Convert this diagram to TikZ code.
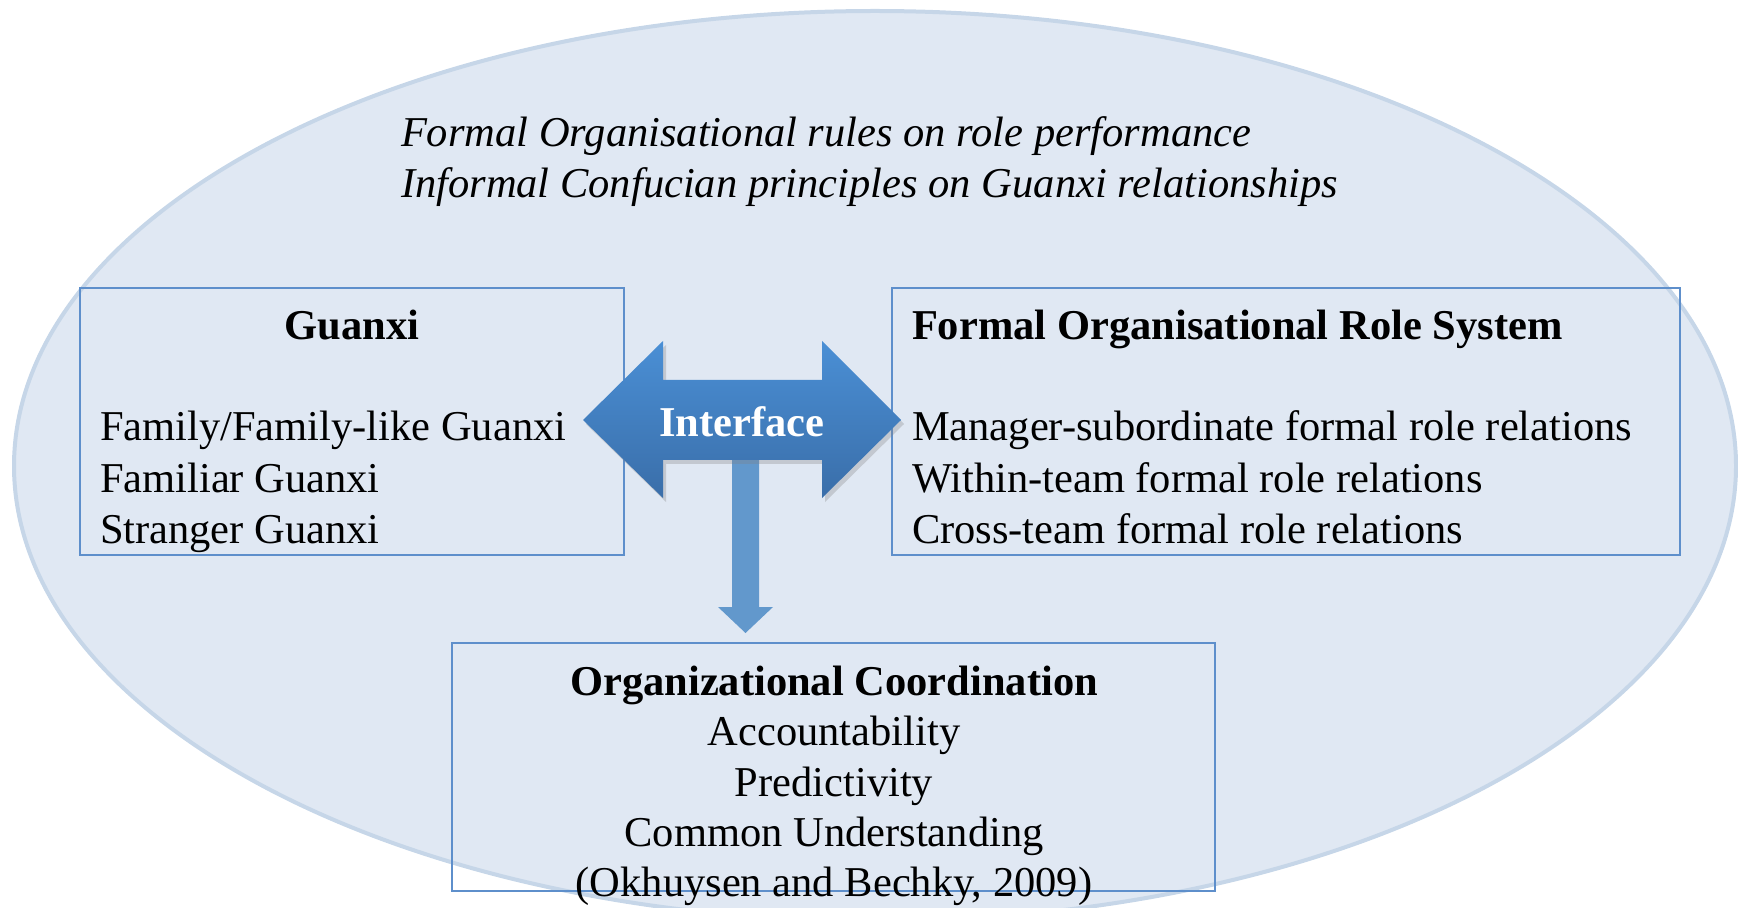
\documentclass[tikz,border=0pt]{standalone}
\usepackage{fontspec}
\setmainfont{Liberation Serif}
\usetikzlibrary{shadows}

\definecolor{ellfill}{HTML}{E0E8F3}
\definecolor{ellline}{HTML}{C6D6E8}
\definecolor{boxline}{HTML}{5E8FCB}
\definecolor{arrowtop}{HTML}{4A8FD5}
\definecolor{arrowbot}{HTML}{3A6EA9}
\definecolor{downfill}{HTML}{6298CC}

\newcommand\labelsize{\fontsize{21.25pt}{25.5pt}\selectfont}

\begin{document}
\begin{tikzpicture}[x=0.5pt,y=-0.5pt,
  txt/.style={inner sep=0pt, outer sep=0pt, font=\labelsize},
  framebox/.style={draw=boxline, line width=1pt, rectangle, inner sep=0pt}]
\useasboundingbox (0,0) rectangle (1738,908);
\clip (0,0) rectangle (1738,908);

% outer context ellipse
\draw[fill=ellfill, draw=ellline, line width=2pt] (875,466) ellipse [x radius=861, y radius=455];

% the three frames
\node[framebox, minimum width=272pt, minimum height=133.5pt] (guanxi) at (352,421.5) {};
\node[framebox, minimum width=394pt, minimum height=133.5pt] (formal) at (1286,421.5) {};
\node[framebox, minimum width=381.5pt, minimum height=124pt] (coord) at (833.5,767) {};

% context lines
\node[txt, anchor=base west] (rule1) at (401,147) {\itshape Formal Organisational rules on role performance};
\node[txt, anchor=base west] (rule2) at (401,198) {\itshape Informal Confucian principles on Guanxi relationships};

% Guanxi frame
\node[txt, anchor=base] (gtitle) at (352,340) {\bfseries Guanxi};
\node[txt, anchor=base west] (g1) at (100,441) {Family/Family-like Guanxi};
\node[txt, anchor=base west] (g2) at (100,492) {Familiar Guanxi};
\node[txt, anchor=base west] (g3) at (100,543) {Stranger Guanxi};

% formal role system frame
\node[txt, anchor=base west] (ftitle) at (912,340) {\bfseries Formal Organisational Role System};
\node[txt, anchor=base west] (f1) at (912,441) {Manager-subordinate formal role relations};
\node[txt, anchor=base west] (f2) at (912,492) {Within-team formal role relations};
\node[txt, anchor=base west] (f3) at (912,543) {Cross-team formal role relations};

% coordination frame
\node[txt, anchor=base] (ctitle) at (834,695) {\bfseries Organizational Coordination};
\node[txt, anchor=base] (c1) at (834,745) {Accountability};
\node[txt, anchor=base] (c2) at (834,796) {Predictivity};
\node[txt, anchor=base] (c3) at (834,846) {Common Understanding};
\node[txt, anchor=base] (c4) at (834,896) {(Okhuysen and Bechky, 2009)};

% downward arrow towards coordination
\fill[downfill] (732,455) -- (759,455) -- (759,607) -- (773,607) -- (745.5,633)
  -- (718,607) -- (732,607) -- cycle;

% double-headed interface arrow
\path[top color=arrowtop, bottom color=arrowbot,
  drop shadow={opacity=0.3, shadow xshift=1.5pt, shadow yshift=-2pt}]
  (583,420) -- (663,341) -- (663,380) -- (822,380) -- (822,341) -- (901,420)
  -- (822,498) -- (822,460) -- (663,460) -- (663,498) -- cycle;
\node[txt, anchor=base, text=white] (iface) at (742,437) {\bfseries Interface};
\end{tikzpicture}
\end{document}
